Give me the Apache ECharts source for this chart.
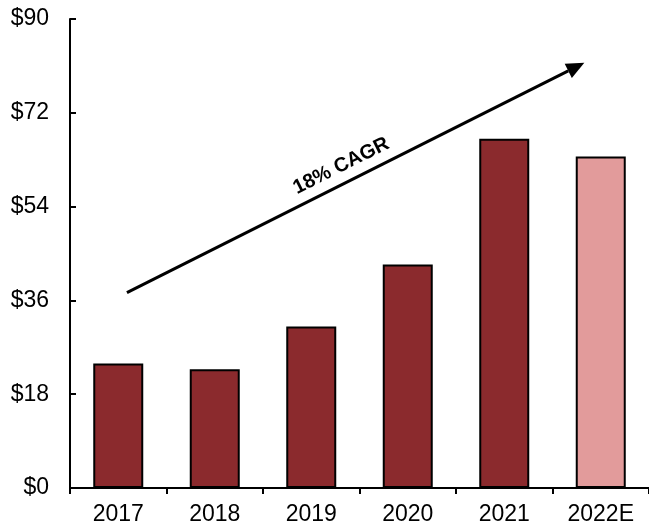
<!DOCTYPE html>
<html>
<head>
<meta charset="utf-8">
<script src="https://cdn.jsdelivr.net/npm/echarts@6/dist/echarts.min.js"></script>
<style>
  html, body { margin: 0; padding: 0; background: #fff; }
  #chart { width: 649px; height: 526px; }
</style>
</head>
<body>
<div id="chart"></div>
<script>
// 年度数据
var years = ['2017', '2018', '2019', '2020', '2021', '2022E'];
var revenue = [23.9, 22.8, 31.0, 42.9, 67.0, 63.6];
var estimated = [false, false, false, false, false, true];
var yTicks = { min: 0, max: 90, interval: 18 };
// 箭头起止 (类目索引, 数值)
var arrowFrom = [0.09, 37.5];
var arrowTo = [4.83, 81.6];
var arrowLabel = '18% CAGR';

var chart = echarts.init(document.getElementById('chart'));

var barData = revenue.map(function (v, i) {
    return {
        value: v,
        itemStyle: { color: estimated[i] ? '#E29B9B' : '#8B2A2D' }
    };
});

chart.setOption({
    animation: false,
    grid: { left: 70, right: 0, top: 19, bottom: 37 },
    xAxis: {
        type: 'category',
        data: years,
        axisLine: { lineStyle: { color: '#000', width: 2 } },
        axisTick: { show: true, length: 6, lineStyle: { color: '#000', width: 2 } },
        axisLabel: {
            color: '#000',
            fontSize: 23,
            fontFamily: 'Liberation Sans',
            margin: 15
        }
    },
    yAxis: {
        type: 'value',
        min: yTicks.min,
        max: yTicks.max,
        interval: yTicks.interval,
        splitLine: { show: false },
        axisLine: { show: true, lineStyle: { color: '#000', width: 2 } },
        axisTick: { show: true, inside: true, length: 6, lineStyle: { color: '#000', width: 2 } },
        axisLabel: {
            color: '#000',
            fontSize: 23,
            fontFamily: 'Liberation Sans',
            margin: 21,
            formatter: '${value}'
        }
    },
    series: [{
        type: 'bar',
        data: barData,
        barWidth: 50,
        itemStyle: { borderColor: '#000', borderWidth: 2 }
    }]
});

// 箭头与标注
function toPixel(p) {
    var i = Math.floor(p[0]);
    var frac = p[0] - i;
    var a = chart.convertToPixel({ gridIndex: 0 }, [i, p[1]]);
    var b = chart.convertToPixel({ gridIndex: 0 }, [i + 1, p[1]]);
    return [a[0] + (b[0] - a[0]) * frac, a[1]];
}
var p1 = toPixel(arrowFrom);
var p2 = toPixel(arrowTo);
var dx = p2[0] - p1[0], dy = p2[1] - p1[1];
var len = Math.sqrt(dx * dx + dy * dy);
var ux = dx / len, uy = dy / len;
var headLen = 18, headW = 8;
var base = [p2[0] - ux * headLen, p2[1] - uy * headLen];
var ang = Math.atan2(-dy, dx);
var mid = [p1[0] + dx * 0.485, p1[1] + dy * 0.485];

chart.setOption({
    graphic: [
        {
            type: 'line',
            shape: { x1: p1[0], y1: p1[1], x2: base[0], y2: base[1] },
            style: { stroke: '#000', lineWidth: 3 }
        },
        {
            type: 'polygon',
            shape: {
                points: [
                    p2,
                    [base[0] - uy * headW, base[1] + ux * headW],
                    [base[0] + uy * headW, base[1] - ux * headW]
                ]
            },
            style: { fill: '#000' }
        },
        {
            type: 'text',
            x: mid[0] + uy * 17,
            y: mid[1] - ux * 17,
            rotation: ang,
            style: {
                text: arrowLabel,
                fill: '#000',
                font: 'bold 20px "Liberation Sans"',
                align: 'center',
                verticalAlign: 'middle'
            }
        }
    ]
});
</script>
</body>
</html>
